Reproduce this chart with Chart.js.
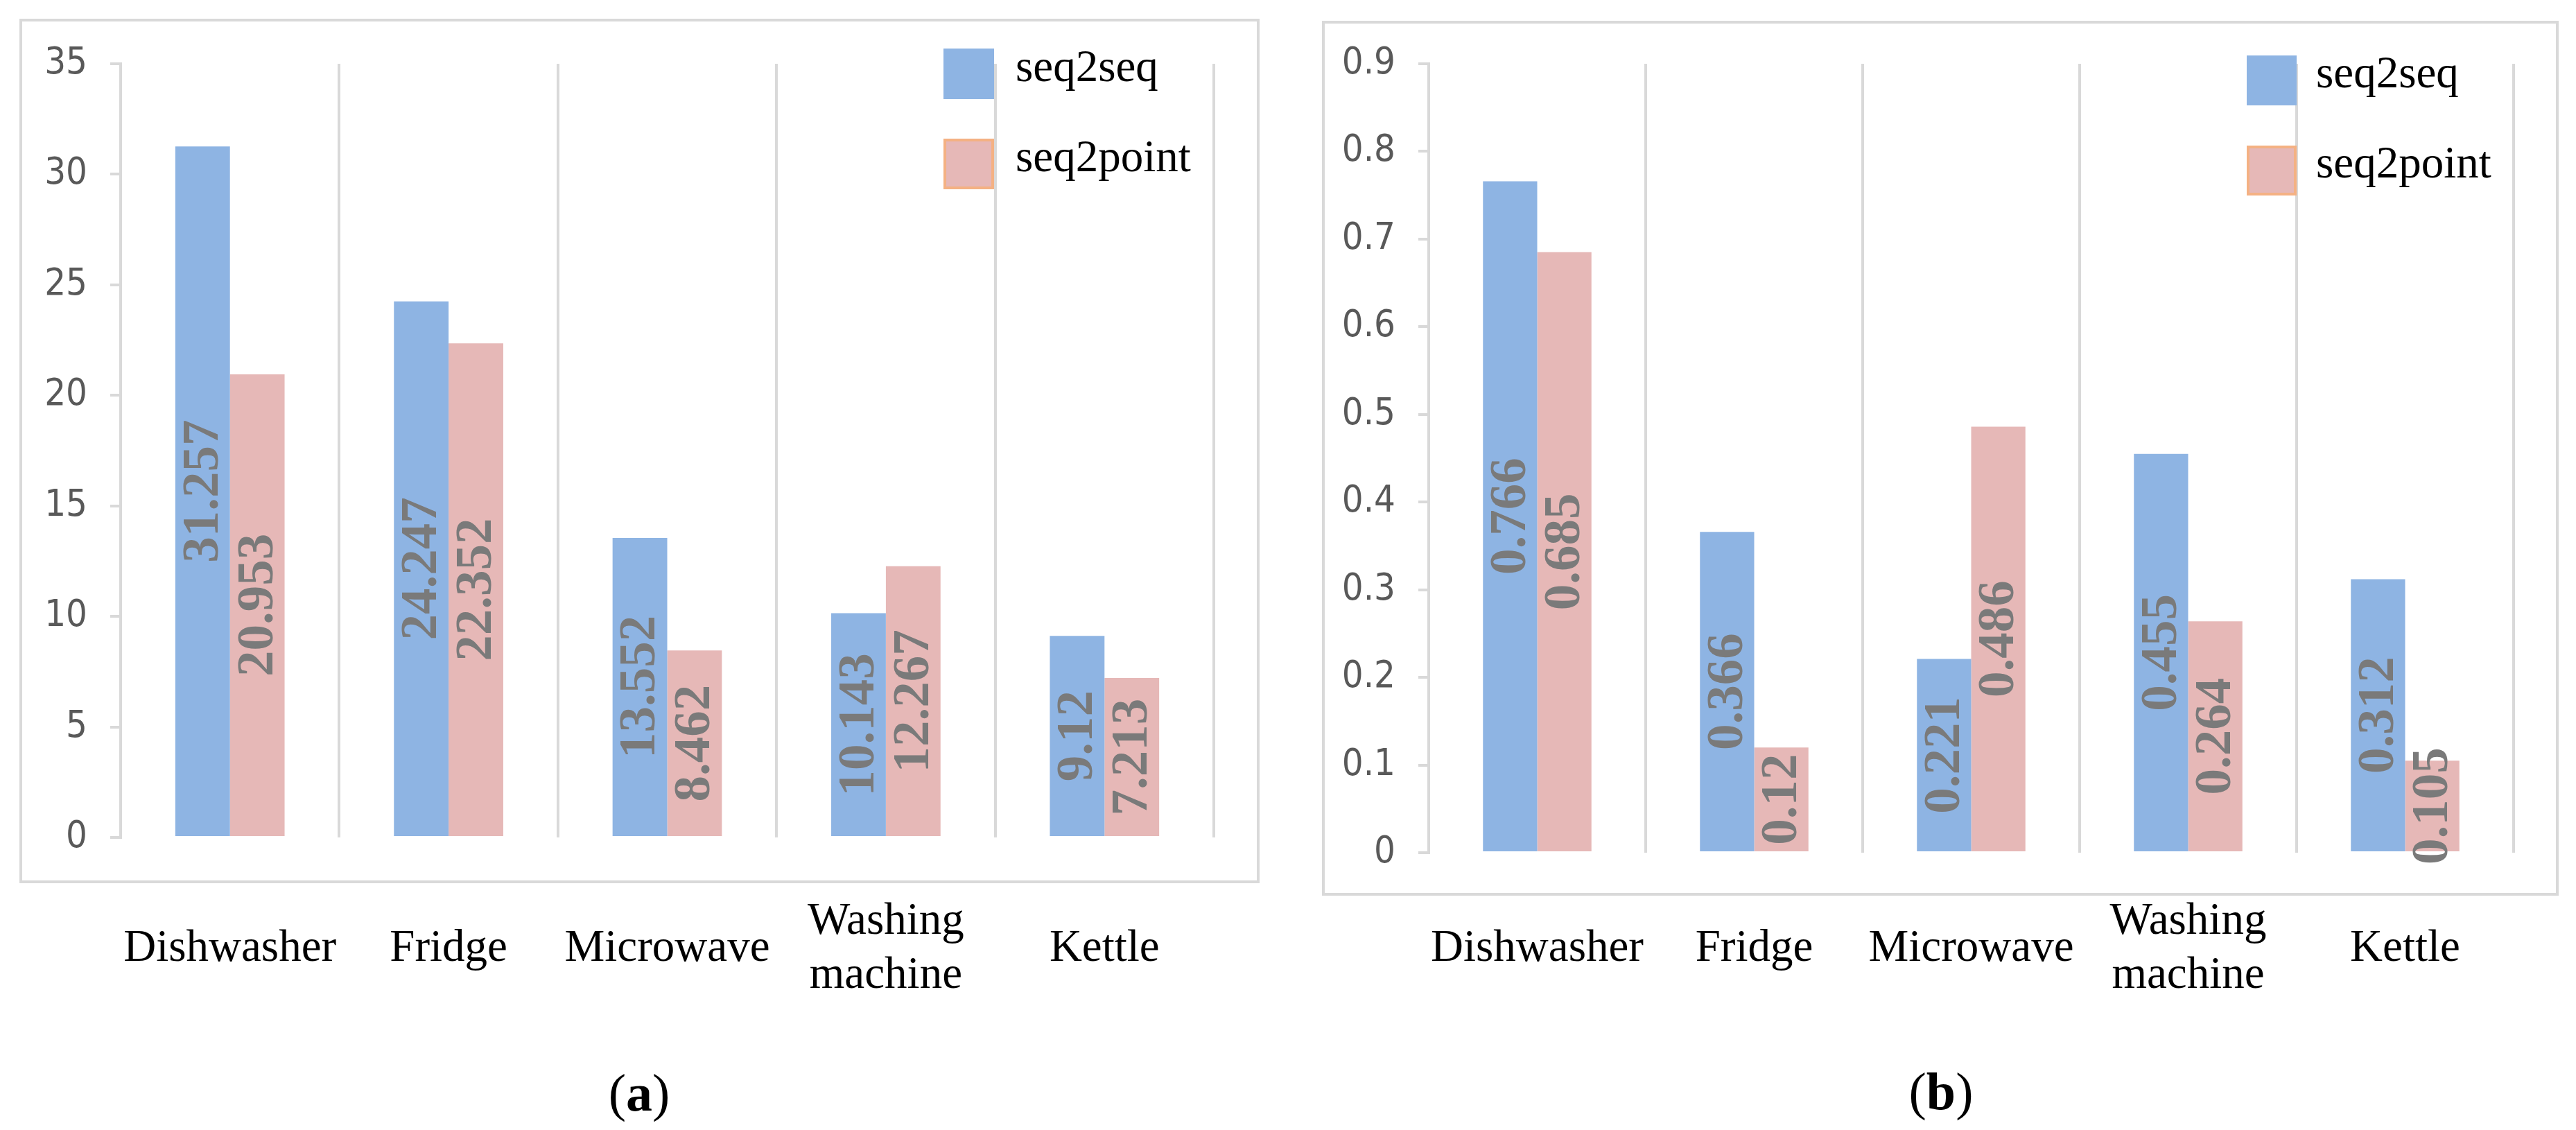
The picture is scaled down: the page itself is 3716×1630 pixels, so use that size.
<!DOCTYPE html>
<html>
<head>
<meta charset="utf-8">
<script src="https://cdn.jsdelivr.net/npm/chart.js@4.4.1/dist/chart.umd.min.js"></script>
<style>
  html, body { margin: 0; padding: 0; background: #ffffff; }
  body { width: 3716px; height: 1630px; position: relative; overflow: hidden; }
  canvas { position: absolute; top: 0; }
  #cA { left: 0; }
  #cB { left: 1858px; }
  .cap { position: absolute; font-family: 'Liberation Serif', 'Times New Roman', serif; font-size: 76px; color: #000; transform: translate(-50%, -50%); white-space: nowrap; }
</style>
</head>
<body>
<canvas id="cA" width="1858" height="1630"></canvas>
<canvas id="cB" width="1858" height="1630"></canvas>
<div class="cap" style="left:922px; top:1576px;">(<b>a</b>)</div>
<div class="cap" style="left:2800px; top:1574px;">(<b>b</b>)</div>
<script>
// ---- data ----
const categories = ['Dishwasher', 'Fridge', 'Microwave', ['Washing', 'machine'], 'Kettle'];
const seriesNames = ['seq2seq', 'seq2point'];
const panelA_seq2seq   = [31.257, 24.247, 13.552, 10.143, 9.12];
const panelA_seq2point = [20.953, 22.352, 8.462, 12.267, 7.213];
const panelB_seq2seq   = [0.766, 0.366, 0.221, 0.455, 0.312];
const panelB_seq2point = [0.685, 0.12, 0.486, 0.264, 0.105];
const panelA_ticks = { min: 0, max: 35, step: 5 };
const panelB_ticks = { min: 0, max: 0.9, step: 0.1 };

const BLUE = '#8eb4e3';
const PINK = '#e6b8b7';
const PINK_EDGE = '#f4b183';
const GRID = '#d9d9d9';

const boxPlugin = {
  id: 'panelBox',
  beforeDraw(chart, args, o) {
    const ctx = chart.ctx;
    ctx.save();
    ctx.fillStyle = '#ffffff';
    ctx.fillRect(0, 0, chart.width, chart.height);
    ctx.strokeStyle = GRID;
    ctx.lineWidth = 4;
    ctx.strokeRect(o.x1, o.y1, o.x2 - o.x1, o.y2 - o.y1);
    ctx.restore();
  }
};

const valueLabels = {
  id: 'valueLabels',
  afterDatasetsDraw(chart) {
    const ctx = chart.ctx;
    ctx.save();
    ctx.font = 'bold 75px "Liberation Serif", "Times New Roman", serif';
    ctx.fillStyle = '#7a7a7a';
    ctx.textAlign = 'center';
    ctx.textBaseline = 'middle';
    chart.data.datasets.forEach((ds, di) => {
      const meta = chart.getDatasetMeta(di);
      meta.data.forEach((el, i) => {
        const cy = (el.y + el.base) / 2;
        ctx.save();
        ctx.translate(el.x, cy);
        ctx.rotate(-Math.PI / 2);
        ctx.fillText(String(ds.data[i]), 0, 2);
        ctx.restore();
      });
    });
    ctx.restore();
  }
};

const legendPlugin = {
  id: 'boxLegend',
  afterDraw(chart, args, o) {
    const ctx = chart.ctx;
    ctx.save();
    ctx.font = '65px "Liberation Serif", "Times New Roman", serif';
    ctx.textAlign = 'left';
    ctx.textBaseline = 'alphabetic';
    chart.data.datasets.forEach((ds, di) => {
      const y = o.ys[di];
      ctx.fillStyle = ds.backgroundColor;
      ctx.fillRect(o.x, y, o.size, o.size);
      if (ds.legendEdge) {
        ctx.strokeStyle = ds.legendEdge;
        ctx.lineWidth = 4;
        ctx.strokeRect(o.x + 2, y + 2, o.size - 4, o.size - 4);
      }
      ctx.fillStyle = '#000000';
      ctx.fillText(ds.label, o.textX, y + o.size / 2 + 10);
    });
    ctx.restore();
  }
};

function makeChart(id, s1, s2, tk, geo) {
  return new Chart(document.getElementById(id), {
    type: 'bar',
    data: {
      labels: categories,
      datasets: [
        { label: seriesNames[0], data: s1, backgroundColor: BLUE, borderWidth: 0 },
        { label: seriesNames[1], data: s2, backgroundColor: PINK, borderWidth: 0, legendEdge: PINK_EDGE }
      ]
    },
    options: {
      responsive: false,
      animation: false,
      devicePixelRatio: 1,
      events: [],
      layout: { padding: { left: 0, top: geo.top, right: 1858 - geo.right, bottom: 0 } },
      datasets: { bar: { categoryPercentage: 0.5, barPercentage: 1.0 } },
      plugins: {
        legend: { display: false },
        tooltip: { enabled: false },
        panelBox: geo.box,
        boxLegend: geo.legend
      },
      scales: {
        x: {
          type: 'category',
          offset: true,
          grid: { display: true, offset: true, drawOnChartArea: true, drawTicks: false, color: GRID, lineWidth: 4 },
          border: { display: false },
          ticks: {
            font: { family: '"Liberation Serif", "Times New Roman", serif', size: 65, lineHeight: 1.2 },
            color: '#000000',
            padding: geo.xpad,
            crossAlign: 'center',
            maxRotation: 0, minRotation: 0, autoSkip: false
          },
          afterFit(scale) {
            scale.height = 1630 - geo.bottom;
            scale.paddingLeft = 0; scale.paddingRight = 0;
            scale.paddingTop = 0; scale.paddingBottom = 0;
          }
        },
        y: {
          min: tk.min, max: tk.max,
          grid: { display: true, drawOnChartArea: false, drawTicks: true, tickLength: 15, color: GRID, lineWidth: 4 },
          border: { display: true, color: GRID, width: 4 },
          ticks: {
            stepSize: tk.step,
            font: { family: '"Liberation Sans Narrow", "DejaVu Sans Condensed", "Liberation Sans", sans-serif', size: 54 },
            color: '#595959',
            padding: 33,
            callback: v => String(+Number(v).toFixed(2))
          },
          afterFit(scale) {
            scale.width = geo.left;
            scale.paddingTop = 0; scale.paddingBottom = 0;
          }
        }
      }
    },
    plugins: [boxPlugin, valueLabels, legendPlugin]
  });
}

makeChart('cA', panelA_seq2seq, panelA_seq2point, panelA_ticks, {
  left: 174, right: 1751, top: 92, bottom: 1208, xpad: 122,
  box: { x1: 30, y1: 29, x2: 1815, y2: 1272 },
  legend: { x: 1361, ys: [70, 200], size: 73, textX: 1465 }
});
makeChart('cB', panelB_seq2seq, panelB_seq2point, panelB_ticks, {
  left: 203, right: 1768, top: 92, bottom: 1230, xpad: 100,
  box: { x1: 51, y1: 32, x2: 1831, y2: 1290 },
  legend: { x: 1383, ys: [80, 210], size: 72, textX: 1483 }
});
</script>
</body>
</html>
